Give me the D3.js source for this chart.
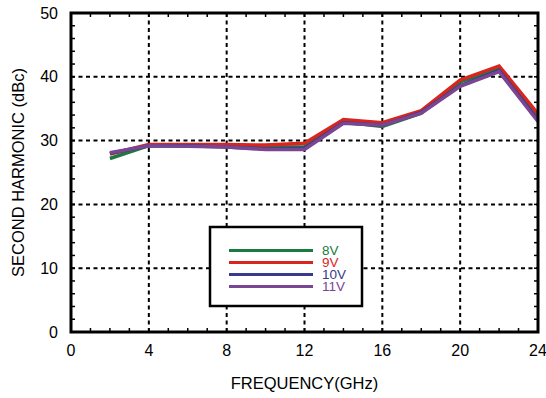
<!DOCTYPE html>
<html>
<head>
<meta charset="utf-8">
<script src="https://cdn.jsdelivr.net/npm/d3@7"></script>
<style>
  body { margin: 0; background: #fff; }
  text { font-family: "Liberation Sans", Arial, Helvetica, sans-serif; }
</style>
</head>
<body>
<div id="chart"></div>
<script>
// frequency points (GHz)
const freqs = [2, 4, 6, 8, 10, 12, 14, 16, 18, 20, 22, 24];

// second harmonic (dBc) per supply voltage
const v8  = [27.2, 29.2, 29.2, 29.1, 29.0, 29.0, 32.9, 32.2, 34.3, 39.2, 41.3, 33.5];
const v9  = [27.9, 29.4, 29.4, 29.4, 29.3, 29.6, 33.3, 32.8, 34.7, 39.5, 41.7, 34.2];
const v10 = [28.0, 29.2, 29.2, 29.0, 28.7, 28.8, 32.8, 32.4, 34.4, 38.6, 41.0, 33.2];
const v11 = [28.1, 29.2, 29.1, 29.0, 28.6, 28.6, 32.7, 32.4, 34.3, 38.5, 40.8, 33.0];

const seriesNames = ["8V", "9V", "10V", "11V"];
const seriesColors = ["#1b7a3e", "#d8261e", "#383a8c", "#7a4592"];
const seriesValues = [v8, v9, v10, v11];

const xTicks = [0, 4, 8, 12, 16, 20, 24];
const yTicks = [0, 10, 20, 30, 40, 50];

const width = 546, height = 398;
const margin = { top: 13, right: 8, bottom: 66, left: 71 };
const plotW = width - margin.left - margin.right;
const plotH = height - margin.top - margin.bottom;

const svg = d3.select("#chart")
  .append("svg")
  .attr("width", width)
  .attr("height", height);

const g = svg.append("g")
  .attr("transform", `translate(${margin.left},${margin.top})`);

const x = d3.scaleLinear().domain([0, 24]).range([0, plotW]);
const y = d3.scaleLinear().domain([0, 50]).range([plotH, 0]);

// dashed grid
g.append("g")
  .selectAll("line")
  .data(xTicks.slice(1, -1))
  .join("line")
  .attr("x1", d => x(d)).attr("x2", d => x(d))
  .attr("y1", 0).attr("y2", plotH)
  .attr("stroke", "#000")
  .attr("stroke-width", 2)
  .attr("stroke-dasharray", "4,3.5");

g.append("g")
  .selectAll("line")
  .data(yTicks.slice(1, -1))
  .join("line")
  .attr("x1", 0).attr("x2", plotW)
  .attr("y1", d => y(d)).attr("y2", d => y(d))
  .attr("stroke", "#000")
  .attr("stroke-width", 2)
  .attr("stroke-dasharray", "4,3.5");

// minor ticks on all four sides, pointing inward
const xMinor = d3.range(1, 24);
const yMinor = d3.range(2, 50, 2);
const tickLen = 4;
const ticks = g.append("g").attr("stroke", "#000").attr("stroke-width", 1.5);
xMinor.forEach(v => {
  ticks.append("line").attr("x1", x(v)).attr("x2", x(v)).attr("y1", plotH).attr("y2", plotH - tickLen);
  ticks.append("line").attr("x1", x(v)).attr("x2", x(v)).attr("y1", 0).attr("y2", tickLen);
});
yMinor.forEach(v => {
  ticks.append("line").attr("x1", 0).attr("x2", tickLen).attr("y1", y(v)).attr("y2", y(v));
  ticks.append("line").attr("x1", plotW).attr("x2", plotW - tickLen).attr("y1", y(v)).attr("y2", y(v));
});

// data lines
const line = d3.line()
  .x((d, i) => x(freqs[i]))
  .y(d => y(d));

seriesValues.forEach((vals, k) => {
  g.append("path")
    .datum(vals)
    .attr("fill", "none")
    .attr("stroke", seriesColors[k])
    .attr("stroke-width", 3.5)
    .attr("stroke-linejoin", "miter")
    .attr("d", line);
});

// legend
const legend = svg.append("g").attr("transform", "translate(210,227)");
legend.append("rect")
  .attr("width", 152)
  .attr("height", 79)
  .attr("fill", "#fff")
  .attr("stroke", "#000")
  .attr("stroke-width", 2.5);

seriesNames.forEach((name, k) => {
  const ly = 23.5 + k * 12;
  legend.append("line")
    .attr("x1", 19).attr("x2", 103)
    .attr("y1", ly).attr("y2", ly)
    .attr("stroke", seriesColors[k])
    .attr("stroke-width", 3);
  legend.append("text")
    .attr("x", 112)
    .attr("y", ly)
    .attr("dy", "0.35em")
    .attr("fill", seriesColors[k])
    .style("font-size", "13.5px")
    .text(name);
});

// frame
g.append("rect")
  .attr("width", plotW)
  .attr("height", plotH)
  .attr("fill", "none")
  .attr("stroke", "#000")
  .attr("stroke-width", 3);

// tick labels
g.append("g")
  .selectAll("text")
  .data(xTicks)
  .join("text")
  .attr("x", d => x(d))
  .attr("y", plotH + 24)
  .attr("text-anchor", "middle")
  .style("font-size", "16px")
  .text(d => d);

g.append("g")
  .selectAll("text")
  .data(yTicks)
  .join("text")
  .attr("x", -13)
  .attr("y", d => y(d))
  .attr("dy", "0.35em")
  .attr("text-anchor", "end")
  .style("font-size", "16px")
  .text(d => d);

// axis titles
svg.append("text")
  .attr("x", margin.left + plotW / 2)
  .attr("y", 389)
  .attr("text-anchor", "middle")
  .style("font-size", "16.5px")
  .text("FREQUENCY(GHz)");

svg.append("text")
  .attr("transform", `translate(24,${margin.top + plotH / 2}) rotate(-90)`)
  .attr("text-anchor", "middle")
  .style("font-size", "16.5px")
  .text("SECOND HARMONIC (dBc)");
</script>
</body>
</html>
